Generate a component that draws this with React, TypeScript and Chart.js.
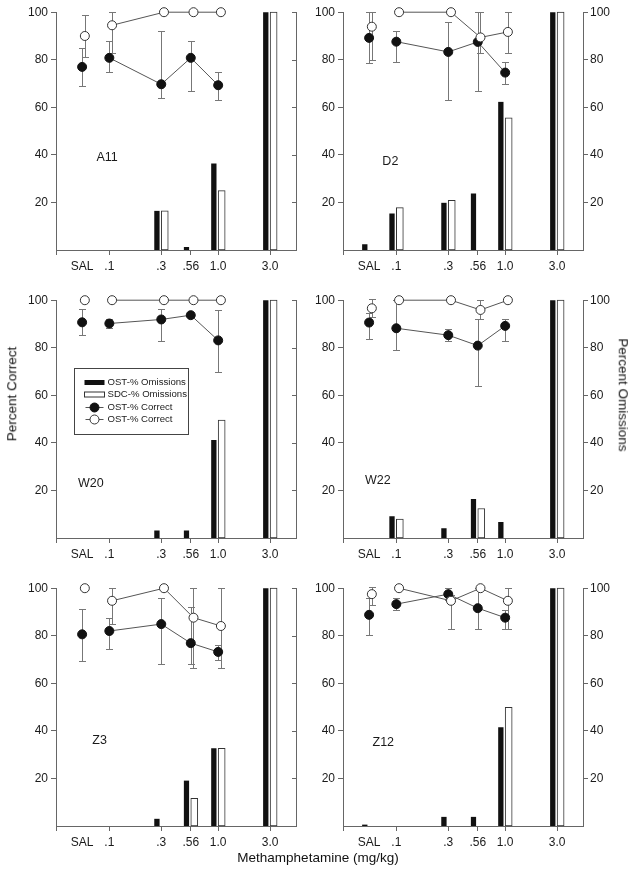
import React, { useEffect, useRef } from 'react';
import { Chart, registerables } from 'chart.js';
Chart.register(...registerables);

const FONT = "'Liberation Sans', Arial, Helvetica, sans-serif";
const AXIS = '#666';
const TEXT = '#1a1a1a';
const LINE = '#555';
const ERR = '#777';

// x axis: dose on a log10 axis, SAL placed left of .1
const DOSE_LABELS = ['SAL', '.1', '.3', '.56', '1.0', '3.0'];
const DOSES = [0.1, 0.3, 0.56, 1.0, 3.0];
const SAL_POS = -1.25;
const X_MIN = -1.49;
const X_MAX = 0.715;
const X_POS = [SAL_POS, ...DOSES.map((d) => Math.log10(d))];
const Y_TICKS = [20, 40, 60, 80, 100];
const OPEN_SHIFT = 0.025;

const LEGEND_LABELS = ['OST-% Omissions', 'SDC-% Omissions', 'OST-% Correct', 'OST-% Correct'];

// ---- A11 ----
const A11_OST_OMIT = [null, null, 16.5, 1.3, 36.4, 100];
const A11_SDC_OMIT = [null, null, 16.5, null, 25, 100];
const A11_OST_CORR = [77, 80.8, 69.7, 80.8, 69.3];
const A11_OST_LO = [69, 75, 64, 67, 63];
const A11_OST_HI = [85, 88, 92, 88, 75];
const A11_SDC_CORR = [90, 94.5, 100, 100, 100];
const A11_SDC_LO = [81, 83, null, null, null];
const A11_SDC_HI = [99, 100, null, null, null];

// ---- D2 ----
const D2_OST_OMIT = [2.4, 15.4, 19.9, 23.8, 62.3, 100];
const D2_SDC_OMIT = [null, 17.8, 20.9, null, 55.6, 100];
const D2_OST_CORR = [89.2, 87.6, 83.3, 87.5, 74.6];
const D2_OST_LO = [78.5, 79, 63, 67, 70];
const D2_OST_HI = [100, 92, 96, 100, 79];
const D2_SDC_CORR = [93.9, 100, 100, 89.4, 91.7];
const D2_SDC_LO = [80, null, null, 83, 83];
const D2_SDC_HI = [100, null, null, 100, 100];

// ---- W20 ----
const W20_OST_OMIT = [null, null, 3.2, 3.2, 41.2, 100];
const W20_SDC_OMIT = [null, null, null, null, 49.6, 100];
const W20_OST_CORR = [90.7, 90.2, 91.9, 93.7, 83.1];
const W20_OST_LO = [85.4, 88.2, 83, null, 70];
const W20_OST_HI = [96.2, 92, 96.2, null, 95.9];
const W20_SDC_CORR = [100, 100, 100, 100, 100];
const W20_SDC_LO = [null, null, null, null, null];
const W20_SDC_HI = [null, null, null, null, null];

// ---- W22 ----
const W22_OST_OMIT = [null, 9.1, 4.1, 16.4, 6.7, 100];
const W22_SDC_OMIT = [null, 8, null, 12.4, null, 100];
const W22_OST_CORR = [90.6, 88.2, 85.3, 80.9, 89.2];
const W22_OST_LO = [83.6, 79, 83, 64, 83];
const W22_OST_HI = [94.5, 100, 88, 92, 92];
const W22_SDC_CORR = [96.6, 100, 100, 95.9, 100];
const W22_SDC_LO = [93, null, null, 92, null];
const W22_SDC_HI = [100.5, null, null, 100, null];

// ---- Z3 ----
const Z3_OST_OMIT = [null, null, 3.1, 19.1, 32.7, 100];
const Z3_SDC_OMIT = [null, null, null, 11.6, 32.7, 100];
const Z3_OST_CORR = [80.6, 82, 84.9, 76.9, 73.2];
const Z3_OST_LO = [69.4, 74.6, 68, 68, 70];
const Z3_OST_HI = [91.4, 87.4, 95.8, 91.9, 76];
const Z3_SDC_CORR = [100, 94.7, 100, 87.6, 84.1];
const Z3_SDC_LO = [null, 85, null, 66.3, 66.6];
const Z3_SDC_HI = [null, 100, null, 100, 100];

// ---- Z12 ----
const Z12_OST_OMIT = [0.6, null, 3.9, 3.9, 41.5, 100];
const Z12_SDC_OMIT = [null, null, null, null, 49.9, 100];
const Z12_OST_CORR = [88.8, 93.3, 97.5, 91.6, 87.6];
const Z12_OST_LO = [80.4, 91, 95, 82.9, 83];
const Z12_OST_HI = [96, 95.8, 100, 100, 91];
const Z12_SDC_CORR = [97.5, 100, 94.7, 100, 94.7];
const Z12_SDC_LO = [93, null, 83, null, 83];
const Z12_SDC_HI = [100.5, null, 97, null, 100];

type Arr = (number | null)[];
type Panel = {
  name: string; col: number; row: number; legend: boolean;
  labelX: number; labelY: number;
  ostOmit: Arr; sdcOmit: Arr;
  ostCorr: Arr; ostLo: Arr; ostHi: Arr;
  sdcCorr: Arr; sdcLo: Arr; sdcHi: Arr;
};

const PANELS: Panel[] = [
  { name: 'A11', col: 0, row: 0, legend: false, labelX: -1.02, labelY: 39,
    ostOmit: A11_OST_OMIT, sdcOmit: A11_SDC_OMIT, ostCorr: A11_OST_CORR, ostLo: A11_OST_LO, ostHi: A11_OST_HI,
    sdcCorr: A11_SDC_CORR, sdcLo: A11_SDC_LO, sdcHi: A11_SDC_HI },
  { name: 'D2', col: 1, row: 0, legend: false, labelX: -1.055, labelY: 37,
    ostOmit: D2_OST_OMIT, sdcOmit: D2_SDC_OMIT, ostCorr: D2_OST_CORR, ostLo: D2_OST_LO, ostHi: D2_OST_HI,
    sdcCorr: D2_SDC_CORR, sdcLo: D2_SDC_LO, sdcHi: D2_SDC_HI },
  { name: 'W20', col: 0, row: 1, legend: true, labelX: -1.17, labelY: 23,
    ostOmit: W20_OST_OMIT, sdcOmit: W20_SDC_OMIT, ostCorr: W20_OST_CORR, ostLo: W20_OST_LO, ostHi: W20_OST_HI,
    sdcCorr: W20_SDC_CORR, sdcLo: W20_SDC_LO, sdcHi: W20_SDC_HI },
  { name: 'W22', col: 1, row: 1, legend: false, labelX: -1.17, labelY: 24,
    ostOmit: W22_OST_OMIT, sdcOmit: W22_SDC_OMIT, ostCorr: W22_OST_CORR, ostLo: W22_OST_LO, ostHi: W22_OST_HI,
    sdcCorr: W22_SDC_CORR, sdcLo: W22_SDC_LO, sdcHi: W22_SDC_HI },
  { name: 'Z3', col: 0, row: 2, legend: false, labelX: -1.09, labelY: 36,
    ostOmit: Z3_OST_OMIT, sdcOmit: Z3_SDC_OMIT, ostCorr: Z3_OST_CORR, ostLo: Z3_OST_LO, ostHi: Z3_OST_HI,
    sdcCorr: Z3_SDC_CORR, sdcLo: Z3_SDC_LO, sdcHi: Z3_SDC_HI },
  { name: 'Z12', col: 1, row: 2, legend: false, labelX: -1.12, labelY: 35,
    ostOmit: Z12_OST_OMIT, sdcOmit: Z12_SDC_OMIT, ostCorr: Z12_OST_CORR, ostLo: Z12_OST_LO, ostHi: Z12_OST_HI,
    sdcCorr: Z12_SDC_CORR, sdcLo: Z12_SDC_LO, sdcHi: Z12_SDC_HI },
];

const ROW_TOPS = [12, 300, 588];
const PAD_TOP = 10;
const AREA_H = 238;
const XAXIS_H = 30;
const CANVAS_H = PAD_TOP + AREA_H + XAXIS_H;
const COL_LEFT = [0, 302];
const COL_WIDTH = [312, 337];
const LEFT_AXIS_W = [56, 41];
const RIGHT_AXIS_W = [16, 56];

const errorBarPlugin = {
  id: 'errorBars',
  beforeDatasetsDraw(chart: any) {
    const ctx = chart.ctx;
    const ys = chart.scales.y;
    chart.data.datasets.forEach((ds: any, i: number) => {
      if (!ds.errLo) return;
      const meta = chart.getDatasetMeta(i);
      meta.data.forEach((el: any, j: number) => {
        const lo = ds.errLo[j];
        const hi = ds.errHi[j];
        if (lo == null || hi == null) return;
        const x = Math.round(el.x) + 0.5;
        const y1 = Math.round(ys.getPixelForValue(hi)) + 0.5;
        const y2 = Math.round(ys.getPixelForValue(lo)) + 0.5;
        const cap = 3.5;
        ctx.save();
        ctx.strokeStyle = ERR;
        ctx.lineWidth = 1;
        ctx.beginPath();
        ctx.moveTo(x, y1); ctx.lineTo(x, y2);
        ctx.moveTo(x - cap, y1); ctx.lineTo(x + cap, y1);
        ctx.moveTo(x - cap, y2); ctx.lineTo(x + cap, y2);
        ctx.stroke();
        ctx.restore();
      });
    });
  },
};

const panelDecorPlugin = {
  id: 'panelDecor',
  afterDraw(chart: any, _args: any, opts: any) {
    const ctx = chart.ctx;
    const xs = chart.scales.x;
    const ys = chart.scales.y;
    const a = chart.chartArea;
    ctx.save();
    // inward ticks on right axis (left column)
    if (opts.innerTicks) {
      ctx.strokeStyle = AXIS;
      ctx.lineWidth = 1;
      ctx.beginPath();
      Y_TICKS.forEach((v) => {
        const y = Math.round(ys.getPixelForValue(v)) + 0.5;
        ctx.moveTo(a.right - 4, y);
        ctx.lineTo(a.right, y);
      });
      ctx.stroke();
    }
    // panel name
    if (opts.text) {
      ctx.fillStyle = TEXT;
      ctx.font = `12.5px ${FONT}`;
      ctx.textAlign = 'center';
      ctx.textBaseline = 'middle';
      ctx.fillText(opts.text, xs.getPixelForValue(opts.x), ys.getPixelForValue(opts.y));
    }
    // legend box
    if (opts.legend) {
      const bl = Math.round(a.left + 18) + 0.5;
      const bt = Math.round(a.top + 68) + 0.5;
      ctx.strokeStyle = '#444';
      ctx.lineWidth = 1;
      ctx.strokeRect(bl, bt, 114, 66);
      const rows = [14, 26, 39, 51];
      ctx.fillStyle = '#111';
      ctx.fillRect(bl + 10, bt + rows[0] - 2.5, 20, 5);
      ctx.fillStyle = '#fff';
      ctx.fillRect(bl + 10, bt + rows[1] - 2.5, 20, 5);
      ctx.strokeStyle = '#333';
      ctx.strokeRect(bl + 10, bt + rows[1] - 2.5, 20, 5);
      [2, 3].forEach((k) => {
        const y = bt + rows[k];
        ctx.strokeStyle = LINE;
        ctx.beginPath();
        ctx.moveTo(bl + 11, y); ctx.lineTo(bl + 29, y);
        ctx.stroke();
        ctx.beginPath();
        ctx.arc(bl + 20, y, 4.5, 0, Math.PI * 2);
        ctx.fillStyle = k === 2 ? '#111' : '#fff';
        ctx.fill();
        ctx.strokeStyle = k === 2 ? '#111' : '#333';
        ctx.stroke();
      });
      ctx.fillStyle = TEXT;
      ctx.font = `9.6px ${FONT}`;
      ctx.textAlign = 'left';
      ctx.textBaseline = 'middle';
      LEGEND_LABELS.forEach((t, k) => ctx.fillText(t, bl + 33, bt + rows[k]));
    }
    ctx.restore();
  },
};

function PanelChart({ p }: { p: Panel }) {
  const ref = useRef<HTMLCanvasElement>(null);
  const width = COL_WIDTH[p.col];
  const left = COL_LEFT[p.col];
  const top = ROW_TOPS[p.row] - PAD_TOP;

  useEffect(() => {
    const canvas = ref.current;
    if (!canvas) return;
    const isLeft = p.col === 0;
    const tickFont = { family: FONT, size: 12 };
    const chart = new Chart(canvas, {
      type: 'bar',
      data: {
        datasets: [
          {
            type: 'line',
            label: 'SDC-% Correct',
            data: p.sdcCorr.map((v, i) => ({ x: X_POS[i] + OPEN_SHIFT, y: v })),
            errLo: p.sdcLo, errHi: p.sdcHi,
            borderColor: LINE, borderWidth: 1,
            pointRadius: 4.5, pointBackgroundColor: '#fff', pointBorderColor: '#333', pointBorderWidth: 1,
            segment: { borderColor: (c: any) => (c.p0DataIndex === 0 ? 'rgba(0,0,0,0)' : LINE) },
            tension: 0, clip: false, yAxisID: 'y', xAxisID: 'x', order: 1,
          } as any,
          {
            type: 'line',
            label: 'OST-% Correct',
            data: p.ostCorr.map((v, i) => ({ x: X_POS[i], y: v })),
            errLo: p.ostLo, errHi: p.ostHi,
            borderColor: LINE, borderWidth: 1,
            pointRadius: 4.5, pointBackgroundColor: '#111', pointBorderColor: '#111', pointBorderWidth: 1,
            segment: { borderColor: (c: any) => (c.p0DataIndex === 0 ? 'rgba(0,0,0,0)' : LINE) },
            tension: 0, clip: false, yAxisID: 'y', xAxisID: 'x', order: 2,
          } as any,
          {
            type: 'bar',
            label: 'OST-% Omissions',
            data: p.ostOmit.map((v, i) => ({ x: X_POS[i], y: v })),
            backgroundColor: '#111', borderColor: 'rgba(0,0,0,0)',
            borderWidth: { top: 0, right: 2, bottom: 0, left: 0 }, borderSkipped: false,
            barThickness: 7, yAxisID: 'y2', xAxisID: 'x', order: 3, clip: false,
          } as any,
          {
            type: 'bar',
            label: 'SDC-% Omissions',
            data: p.sdcOmit.map((v, i) => ({ x: X_POS[i], y: v })),
            backgroundColor: '#fff', borderColor: '#333',
            borderWidth: 1, borderSkipped: false,
            barThickness: 7, yAxisID: 'y2', xAxisID: 'x', order: 3, clip: false,
          } as any,
        ],
      },
      options: {
        responsive: false,
        animation: false,
        devicePixelRatio: 1,
        events: [],
        layout: { padding: { top: PAD_TOP, left: 0, right: 0, bottom: 0 } },
        plugins: {
          legend: { display: false },
          tooltip: { enabled: false },
          panelDecor: { innerTicks: isLeft, text: p.name, x: p.labelX, y: p.labelY, legend: p.legend },
        } as any,
        scales: {
          x: {
            type: 'linear',
            min: X_MIN, max: X_MAX, offset: false,
            afterBuildTicks: (s: any) => {
              s.ticks = [X_MIN, ...X_POS].map((v) => ({ value: v }));
            },
            afterFit: (s: any) => { s.height = XAXIS_H; },
            ticks: {
              autoSkip: false, maxRotation: 0, minRotation: 0, padding: 4,
              font: tickFont, color: TEXT,
              callback: (_v: any, i: number) => (i === 0 ? '' : DOSE_LABELS[i - 1]),
            },
            grid: {
              display: true, drawOnChartArea: false, drawTicks: true, tickLength: 5, offset: false,
              color: AXIS,
              tickColor: (c: any) => (c.index === 1 ? 'rgba(0,0,0,0)' : AXIS),
            },
            border: { display: true, color: AXIS, width: 1 },
          },
          y: {
            type: 'linear', position: 'left', min: 0, max: 100,
            afterBuildTicks: (s: any) => { s.ticks = Y_TICKS.map((v) => ({ value: v })); },
            afterFit: (s: any) => { s.width = LEFT_AXIS_W[p.col]; },
            ticks: { font: tickFont, color: TEXT, padding: 3 },
            grid: { display: true, drawOnChartArea: false, tickLength: 5, color: AXIS },
            border: { display: true, color: AXIS, width: 1 },
          },
          y2: {
            type: 'linear', position: 'right', min: 0, max: 100,
            afterBuildTicks: (s: any) => { s.ticks = Y_TICKS.map((v) => ({ value: v })); },
            afterFit: (s: any) => { s.width = RIGHT_AXIS_W[p.col]; },
            ticks: { display: !isLeft, font: tickFont, color: TEXT, padding: 2 },
            grid: { display: !isLeft, drawOnChartArea: false, tickLength: 5, color: AXIS },
            border: { display: true, color: AXIS, width: 1 },
          },
        },
      } as any,
      plugins: [errorBarPlugin, panelDecorPlugin],
    });
    return () => chart.destroy();
  }, [p]);

  return (
    <div style={{ position: 'absolute', left, top, width, height: CANVAS_H }}>
      <canvas ref={ref} width={width} height={CANVAS_H} style={{ display: 'block', width, height: CANVAS_H }} />
    </div>
  );
}

export default function App() {
  const titleStyle: React.CSSProperties = {
    position: 'absolute', whiteSpace: 'nowrap', fontFamily: FONT, fontSize: 13.5, color: '#111', lineHeight: 1,
  };
  return (
    <div style={{ position: 'absolute', left: 0, top: 0, width: 639, height: 874, background: '#fff', overflow: 'hidden' }}>
      {PANELS.map((p) => <PanelChart key={p.name} p={p} />)}
      <div style={{ ...titleStyle, left: 12, top: 394, transform: 'translate(-50%, -50%) rotate(-90deg)' }}>Percent Correct</div>
      <div style={{ ...titleStyle, left: 623, top: 395, transform: 'translate(-50%, -50%) rotate(90deg)' }}>Percent Omissions</div>
      <div style={{ ...titleStyle, left: 318, top: 858, transform: 'translate(-50%, -50%)' }}>Methamphetamine (mg/kg)</div>
    </div>
  );
}
